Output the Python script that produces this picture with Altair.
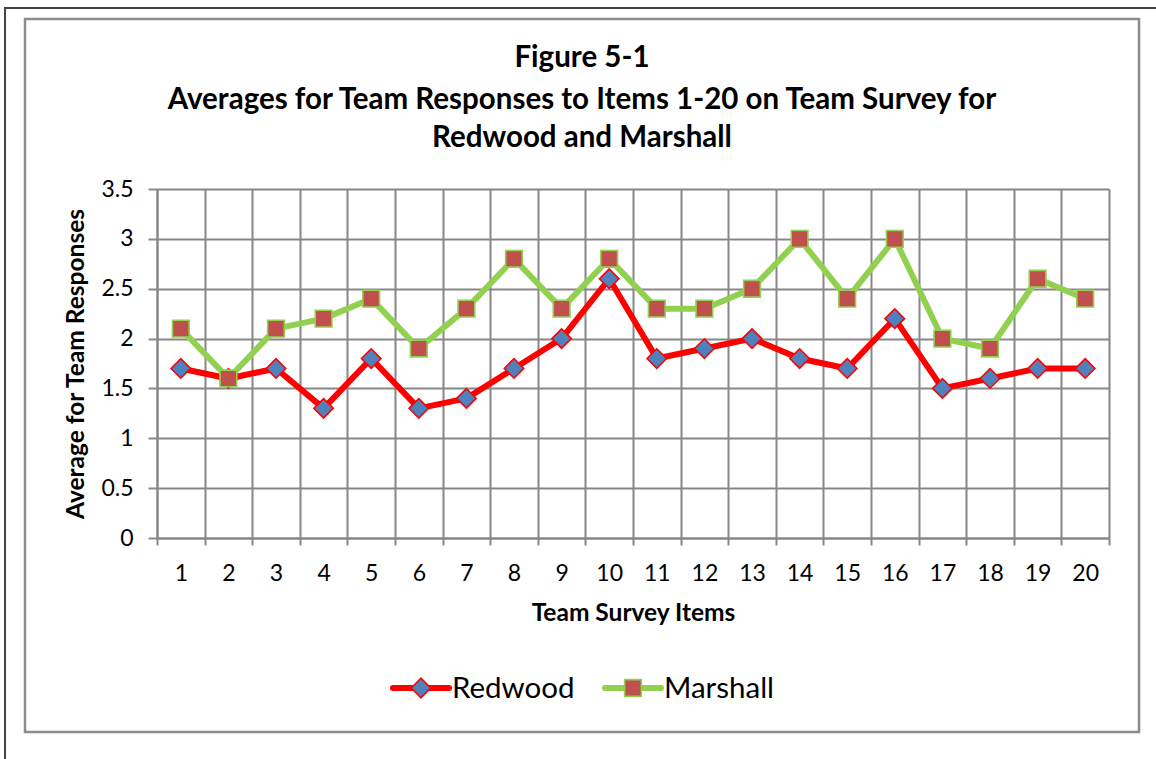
import altair as alt
import pandas as pd

# Survey items and average team responses per school
items = list(range(1, 21))
redwood = [1.7, 1.6, 1.7, 1.3, 1.8, 1.3, 1.4, 1.7, 2.0, 2.6,
           1.8, 1.9, 2.0, 1.8, 1.7, 2.2, 1.5, 1.6, 1.7, 1.7]
marshall = [2.1, 1.6, 2.1, 2.2, 2.4, 1.9, 2.3, 2.8, 2.3, 2.8,
            2.3, 2.3, 2.5, 3.0, 2.4, 3.0, 2.0, 1.9, 2.6, 2.4]
series_names = ["Redwood", "Marshall"]
y_ticks = [0, 0.5, 1, 1.5, 2, 2.5, 3, 3.5]

title_lines = [
    "Figure 5-1",
    "Averages for Team Responses to Items 1-20 on Team Survey for",
    "Redwood and Marshall",
]

FONT = "Lato"
GRID = "#878787"

# plot area geometry (pixels)
W, H = 952, 349
PAD = {"left": 157, "top": 189, "right": 47, "bottom": 221}

styles = {
    "Redwood": dict(line="#FF0000", shape="diamond", fill="#4F81BD",
                    stroke="#FF0000", size=380),
    "Marshall": dict(line="#92D050", shape="square", fill="#C0504D",
                     stroke="#92D050", size=280),
}

df = pd.DataFrame(
    [{"item": i, "series": "Redwood", "value": v} for i, v in zip(items, redwood)]
    + [{"item": i, "series": "Marshall", "value": v} for i, v in zip(items, marshall)]
)

x_enc = alt.X(
    "item:O",
    title="Team Survey Items",
    sort=items,
    scale=alt.Scale(paddingInner=0, paddingOuter=0),
    axis=alt.Axis(
        labelAngle=0, tickBand="extent", grid=True, tickSize=7,
        labelPadding=17, labelFontSize=23, titleFontSize=24.5,
        titleFontWeight="bold", titlePadding=16,
    ),
)
y_enc = alt.Y(
    "value:Q",
    title="Average for Team Responses",
    scale=alt.Scale(domain=[0, 3.5], nice=False),
    axis=alt.Axis(
        values=y_ticks, labelExpr="'' + datum.value", tickSize=9,
        labelPadding=15, labelFontSize=23, titleFontSize=24.5,
        titleFontWeight="bold", titlePadding=12,
    ),
)

base = alt.Chart(df)

lines = []
markers = []
for name in series_names:
    st = styles[name]
    sub = base.transform_filter(alt.datum.series == name)
    lines.append(
        sub.mark_line(color=st["line"], strokeWidth=6, strokeJoin="round")
        .encode(x=x_enc, y=y_enc)
    )
    markers.append(
        sub.mark_point(shape=st["shape"], filled=True, fill=st["fill"],
                       stroke=st["stroke"], strokeWidth=1.6, size=st["size"],
                       opacity=1)
        .encode(x=x_enc, y=y_enc)
    )

one = pd.DataFrame({"k": [0]})

# three-line heading, centred above the plot
title_layers = []
title_y = [58, 100, 138]
for line, ty in zip(title_lines, title_y):
    title_layers.append(
        alt.Chart(one).mark_text(text=line, align="center", baseline="middle",
                                 fontSize=29.5, fontWeight="bold", font=FONT,
                                 color="#000000")
        .encode(x=alt.value(582 - PAD["left"]), y=alt.value(ty - PAD["top"]))
    )

# legend drawn below the axis title
legend_layers = []
LEG_Y = 499
leg_start = 236
leg_step = 212
for j, name in enumerate(series_names):
    st = styles[name]
    x0 = leg_start + j * leg_step
    legend_layers.append(
        alt.Chart(one).mark_rule(color=st["line"], strokeWidth=6, strokeCap="round")
        .encode(x=alt.value(x0), x2=alt.value(x0 + 56), y=alt.value(LEG_Y))
    )
    legend_layers.append(
        alt.Chart(one).mark_point(shape=st["shape"], filled=True, fill=st["fill"],
                                  stroke=st["stroke"], strokeWidth=1.6,
                                  size=st["size"], opacity=1)
        .encode(x=alt.value(x0 + 28), y=alt.value(LEG_Y))
    )
    legend_layers.append(
        alt.Chart(one).mark_text(text=name, align="left", baseline="middle",
                                 fontSize=29.5, font=FONT, color="#000000")
        .encode(x=alt.value(x0 + 59), y=alt.value(LEG_Y + 1))
    )

# chart frames
inner_frame = alt.Chart(one).mark_rect(fillOpacity=0, stroke="#8C8C8C", strokeWidth=2.5).encode(
    x=alt.value(25 - PAD["left"]), x2=alt.value(1139 - PAD["left"]),
    y=alt.value(19 - PAD["top"]), y2=alt.value(732 - PAD["top"]),
)
outer_frame = alt.Chart(one).mark_rect(fillOpacity=0, stroke="#444444", strokeWidth=2).encode(
    x=alt.value(5 - PAD["left"]), x2=alt.value(1220 - PAD["left"]),
    y=alt.value(8 - PAD["top"]), y2=alt.value(820 - PAD["top"]),
)

chart = alt.layer(
    outer_frame, inner_frame,
    *title_layers,
    *lines, *markers,
    *legend_layers,
).properties(
    width=W,
    height=H,
    padding=PAD,
    autosize=alt.AutoSizeParams(type="none"),
    background="#FFFFFF",
).configure_axis(
    labelFont=FONT, titleFont=FONT, labelColor="#000000", titleColor="#000000",
    domainColor=GRID, domainWidth=2, tickColor=GRID, tickWidth=2,
    gridColor=GRID, gridWidth=2, gridOpacity=1,
).configure_view(stroke=None)

chart.save("out.html", embed_options={"renderer": "svg", "actions": False})
